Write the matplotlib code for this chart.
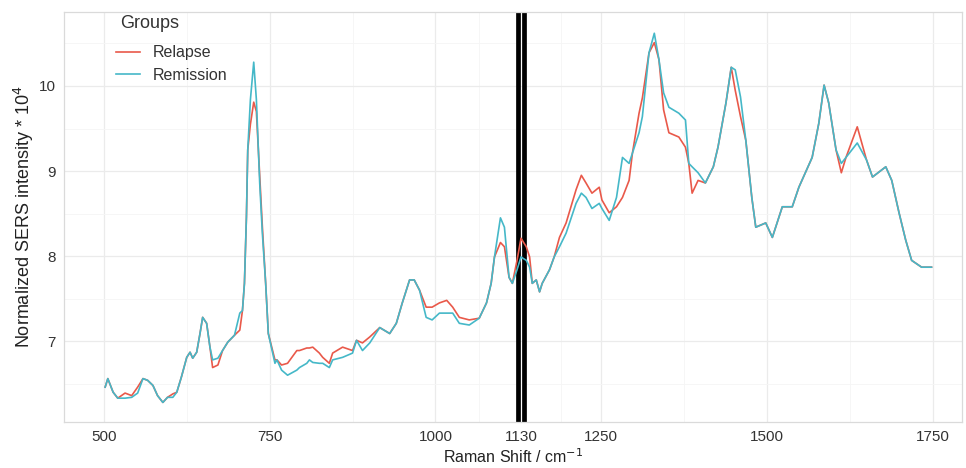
import matplotlib
matplotlib.use("Agg")
import matplotlib.pyplot as plt
from matplotlib.ticker import FixedLocator

plt.rcParams["font.family"] = ["Liberation Sans", "DejaVu Sans"]

# mean SERS spectra (intensity * 10^4)
shift = [502, 506, 514, 521, 532, 542, 551, 559, 566, 574, 581, 589, 596, 604,
         610, 617, 625, 630, 634, 640, 645, 649, 655, 660, 664, 672, 679, 687,
         697, 705, 709, 712, 715, 717, 721, 726, 730, 735, 739, 744, 748,
         758, 761, 768, 777, 791, 795, 806, 810, 815, 825, 830, 840, 845, 860,
         875, 881, 890, 901, 916, 931, 941, 950, 961, 968, 976, 986, 995, 1006,
         1017, 1026, 1036, 1051, 1066, 1077, 1084, 1089, 1098, 1104, 1111, 1116,
         1123, 1129, 1137, 1142, 1146, 1152, 1157, 1161, 1172, 1179, 1187, 1197,
         1212, 1220, 1227, 1236, 1247, 1251, 1262, 1273, 1282, 1292, 1297, 1307,
         1312, 1322, 1330, 1337, 1344, 1352, 1367, 1377, 1382, 1387, 1396, 1407,
         1419, 1426, 1438, 1446, 1452, 1460, 1468, 1477, 1483, 1498, 1508, 1523,
         1538, 1548, 1568, 1578, 1586, 1593, 1604, 1612, 1619, 1636, 1650, 1659,
         1679, 1688, 1699, 1709, 1718, 1733, 1748]

relapse = [6.46, 6.56, 6.40, 6.33, 6.39, 6.36, 6.46, 6.56, 6.54, 6.48, 6.36, 6.28,
           6.34, 6.38, 6.40, 6.58, 6.81, 6.87, 6.80, 6.87, 7.09, 7.28, 7.21, 6.93,
           6.69, 6.72, 6.89, 6.99, 7.07, 7.13, 7.36, 7.68, 8.46, 9.25, 9.55, 9.81,
           9.70, 8.95, 8.35, 7.68, 7.09, 6.78, 6.78, 6.72, 6.74, 6.89, 6.89,
           6.92, 6.92, 6.93, 6.86, 6.81, 6.74, 6.86, 6.93, 6.89, 7.01, 6.98, 7.05,
           7.16, 7.09, 7.21, 7.45, 7.72, 7.72, 7.60, 7.40, 7.40, 7.45, 7.48, 7.40,
           7.28, 7.25, 7.27, 7.45, 7.68, 7.99, 8.16, 8.11, 7.75, 7.68, 7.95, 8.21,
           8.11, 7.99, 7.68, 7.72, 7.58, 7.68, 7.84, 7.99, 8.22, 8.39, 8.78, 8.95,
           8.86, 8.74, 8.81, 8.66, 8.51, 8.58, 8.69, 8.89, 9.21, 9.68, 9.86, 10.39,
           10.51, 10.31, 9.72, 9.45, 9.40, 9.28, 9.09, 8.74, 8.89, 8.86, 9.05, 9.28,
           9.80, 10.22, 9.95, 9.64, 9.36, 8.69, 8.34, 8.39, 8.22, 8.58, 8.58, 8.81,
           9.16, 9.56, 10.01, 9.80, 9.25, 8.98, 9.16, 9.52, 9.13, 8.93, 9.05, 8.89,
           8.51, 8.19, 7.95, 7.87, 7.87]

remission = [6.46, 6.56, 6.40, 6.33, 6.33, 6.34, 6.39, 6.56, 6.54, 6.48, 6.36, 6.28,
             6.34, 6.34, 6.40, 6.58, 6.81, 6.87, 6.80, 6.87, 7.09, 7.28, 7.21, 6.93,
             6.78, 6.80, 6.89, 6.99, 7.07, 7.33, 7.36, 7.68, 8.46, 9.25, 9.84, 10.28,
             9.84, 8.86, 8.27, 7.68, 7.09, 6.74, 6.78, 6.66, 6.60, 6.66, 6.69,
             6.74, 6.78, 6.75, 6.74, 6.74, 6.69, 6.78, 6.81, 6.86, 7.01, 6.89, 6.98,
             7.16, 7.09, 7.21, 7.45, 7.72, 7.72, 7.60, 7.28, 7.25, 7.33, 7.33, 7.33,
             7.21, 7.19, 7.27, 7.45, 7.68, 7.99, 8.45, 8.34, 7.75, 7.68, 7.84, 7.99,
             7.95, 7.87, 7.68, 7.72, 7.58, 7.68, 7.84, 7.99, 8.11, 8.27, 8.62, 8.74,
             8.69, 8.56, 8.62, 8.56, 8.42, 8.69, 9.16, 9.09, 9.21, 9.45, 9.64, 10.39,
             10.62, 10.31, 9.92, 9.75, 9.68, 9.60, 9.09, 9.05, 8.98, 8.86, 9.05, 9.28,
             9.80, 10.22, 10.19, 9.87, 9.36, 8.69, 8.34, 8.39, 8.22, 8.58, 8.58, 8.81,
             9.16, 9.56, 10.01, 9.80, 9.25, 9.09, 9.16, 9.33, 9.13, 8.93, 9.05, 8.89,
             8.51, 8.19, 7.95, 7.87, 7.87]

groups = ["Relapse", "Remission"]
colors = ["#E9594A", "#45B8C8"]
marked = [1124, 1134]              # highlighted band around 1130

x_ticks = [500, 750, 1000, 1130, 1250, 1500, 1750]
y_ticks = [7, 8, 9, 10]

fig = plt.figure(figsize=(9.66, 4.68), dpi=100)
ax = fig.add_axes([0.0663, 0.0983, 0.9296, 0.8761])

for m in marked:
    ax.axvline(m, color="black", lw=3.4, zorder=1)

for name, y, c in zip(groups, [relapse, remission], colors):
    ax.plot(shift, y, color=c, lw=1.2, label=name, zorder=2)

ax.set_xlim(440, 1794)
ax.set_ylim(6.05, 10.87)
ax.set_xticks(x_ticks)
ax.set_yticks(y_ticks)
x_minor = [(a + b) / 2 for a, b in zip(x_ticks[:-1], x_ticks[1:])]
ax.xaxis.set_minor_locator(FixedLocator(x_minor))
ax.yaxis.set_minor_locator(FixedLocator([6.5, 7.5, 8.5, 9.5, 10.5]))
ax.grid(which="major", color="#ebebeb", lw=0.9, zorder=0)
ax.grid(which="minor", color="#f5f5f5", lw=0.6, zorder=0)
ax.set_axisbelow(True)
ax.tick_params(which="both", length=0, labelsize=11, colors="#333333", pad=6)
for s in ax.spines.values():
    s.set_color("#dadada")
    s.set_linewidth(0.9)

ax.set_xlabel("Raman Shift / cm$^{-1}$", fontsize=11.5, color="#222222", labelpad=2)
ax.set_ylabel("Normalized SERS intensity * 10$^4$", fontsize=13, color="#222222", labelpad=2)

ax.text(0.0624, 0.973, "Groups", transform=ax.transAxes, fontsize=13,
        color="#333333", va="center", ha="left")
ax.legend(loc="upper left", bbox_to_anchor=(0.051, 0.934), frameon=False,
          fontsize=11.5, handlelength=1.5, labelspacing=0.45, borderaxespad=0,
          labelcolor="#333333")

fig.savefig("out.png", dpi=100)
